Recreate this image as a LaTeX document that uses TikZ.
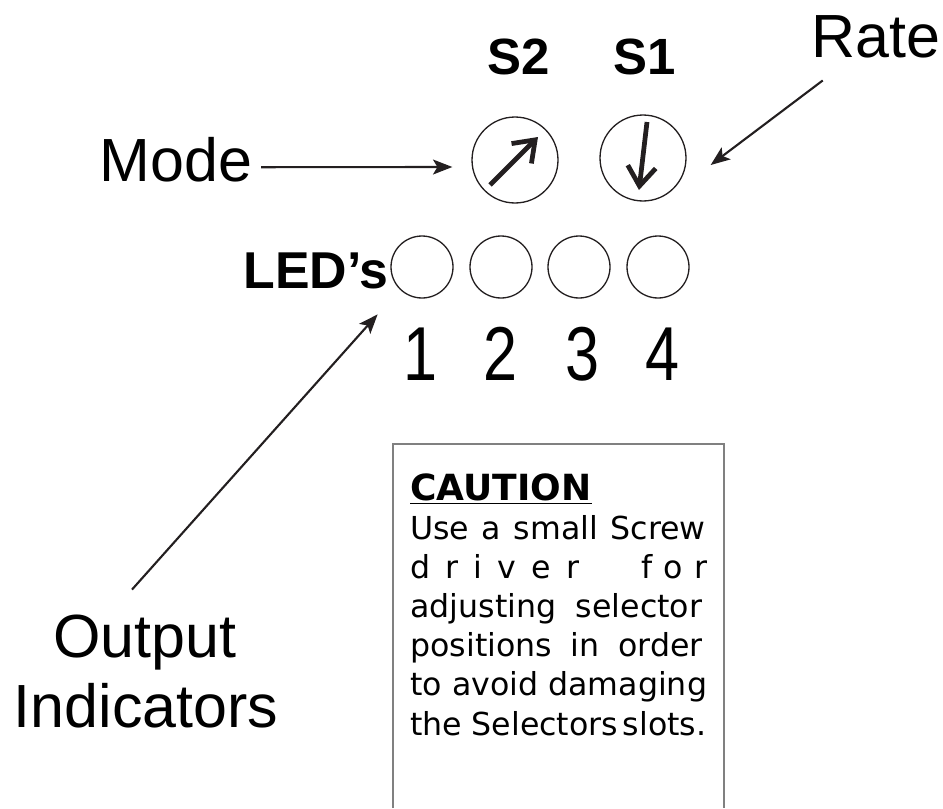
\documentclass[tikz,border=0pt]{standalone}
\usepackage{fontspec}
\setmainfont{Liberation Sans}
\newfontfamily\digitfont[FakeStretch=0.8]{Liberation Sans}
\newfontfamily\notefont{DejaVu Sans}
\usetikzlibrary{calc,arrows.meta}
\definecolor{ink}{RGB}{35,31,32}
\definecolor{framegray}{RGB}{128,128,128}
\newcommand{\lgap}{\hspace{0.48em}}

\begin{document}
\begin{tikzpicture}[x=0.02cm,y=-0.02cm,
    labeltext/.style={inner sep=2pt,font=\fontsize{34.7}{40}\selectfont},
    boldtext/.style={inner sep=2pt,font=\bfseries\fontsize{#1}{#1}\selectfont},
    digit/.style={inner sep=2pt,font=\digitfont\fontsize{43.5}{46}\selectfont},
    knob/.style={circle,draw=ink,line width=0.75pt,minimum size=1.72cm,inner sep=0pt},
    led/.style={circle,draw=ink,line width=0.75pt,minimum size=1.24cm,inner sep=0pt},
    pointer/.style={draw=ink,line width=1.2pt,-{Stealth[length=11pt,width=8.5pt,inset=2.5pt]}},
    dial/.style={draw=ink,line width=2.7pt,-{Straight Barb[length=11pt,width=16pt]}}]

            \useasboundingbox (0,0) rectangle (943,808);

            \node[boldtext=29pt,anchor=base] (s2lab) at (519,74) {S2};
            \node[boldtext=29pt,anchor=base] (s1lab) at (645,74) {S1};
            \node[labeltext,anchor=base] (rate) at (876,57) {Rate};
            \node[labeltext,anchor=base] (mode) at (176,181) {Mode};

            \node[knob] (sw2) at (515,160) {};
            \node[knob] (sw1) at (643,158) {};
            \draw[dial] ($(sw2)+(-25,25)$) -- ($(sw2)+(23,-23)$);
            \draw[dial] ($(sw1)+(4,-36)$) -- ($(sw1)+(-4,32)$);

            \node[boldtext=29.5pt,anchor=base] (leds) at (316,288) {LED’s};
            \foreach \i/\x/\d in {1/422/420,2/501/500,3/579/582,4/658/662}{
                \node[led] (led\i) at (\x,267) {};
                \node[digit,anchor=base] (num\i) at (\d,380) {\i};
            }

            \node[labeltext,anchor=base] (outp) at (145,657) {Output};
            \node[labeltext,anchor=base] (indic) at (146,727) {Indicators};

            \draw[pointer] ($(mode.east)+(5,8)$) -- ($(sw2.west)+(-19,7)$);
            \draw[pointer] ($(rate.south west)+(15,19)$) -- ($(sw1.east)+(24,7)$);
            \draw[pointer] ($(outp.north)+(-13,-21)$) -- ($(led1.south west)+(-22,25)$);

            \draw[framegray,line width=0.8pt] (393,808) -- (393,444) -- (724,444) -- (724,808);
            \node[anchor=base west,inner sep=0pt,text width=5.94cm,
                  font=\notefont\fontsize{18}{22.3}\selectfont] (caution) at (410,500) {%
                {\bfseries\fontsize{20.5}{22.3}\selectfont\underline{CAUTION}}\par
                \tolerance=10000 \hbadness=10000
                \spaceskip=0.3em plus 4em minus 0.12em\relax
                Use a small Screw\break
                d\lgap r\lgap i\lgap v\lgap e\lgap r\hfill f\hspace{0.36em}o\hspace{0.36em}r\break
                adjusting selector\break
                positions in order\break
                to avoid damaging\break
                \mbox{the Selectors\hspace{0.15em}slots.}\par};
          \end{tikzpicture}
\end{document}
